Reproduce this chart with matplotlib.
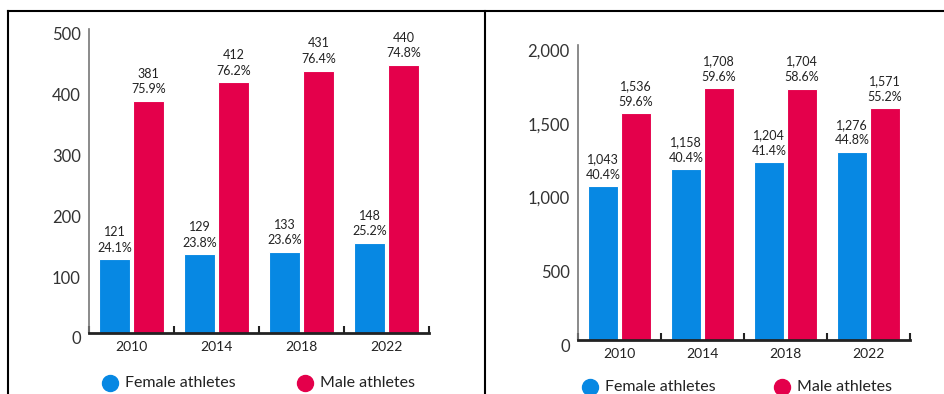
import numpy as np
import matplotlib
matplotlib.use('Agg')
import matplotlib.pyplot as plt
from matplotlib.lines import Line2D
from matplotlib.ticker import FuncFormatter
import matplotlib.transforms as mtransforms

plt.rcParams['font.family'] = ['Lato', 'DejaVu Sans']

years = ['2010', '2014', '2018', '2022']

# left panel (winter games)
female_left = [121, 129, 133, 148]
male_left = [381, 412, 431, 440]
female_left_pct = ['24.1%', '23.8%', '23.6%', '25.2%']
male_left_pct = ['75.9%', '76.2%', '76.4%', '74.8%']

# right panel (paralympic / other)
female_right = [1043, 1158, 1204, 1276]
male_right = [1536, 1708, 1704, 1571]
female_right_pct = ['40.4%', '40.4%', '41.4%', '44.8%']
male_right_pct = ['59.6%', '59.6%', '58.6%', '55.2%']

BLUE = '#0788E3'
RED = '#E4004B'
TXT = '#222222'

W, H = 944, 394
fig = plt.figure(figsize=(W / 100, H / 100), dpi=100)


def px_axes(x0, x1, ytop, ybot):
    return fig.add_axes([x0 / W, 1 - ybot / H, (x1 - x0) / W, (ybot - ytop) / H])


def draw_panel(ax, female, male, fpct, mpct, ymax, step, fmt):
    x = np.arange(len(years))
    bw = 0.36
    ax.bar(x - 0.2, female, bw, color=BLUE, edgecolor='white', linewidth=0.8)
    ax.bar(x + 0.2, male, bw, color=RED, edgecolor='white', linewidth=0.8)

    for xi, v, p in zip(x - 0.2, female, fpct):
        ax.annotate(f'{fmt(v)}\n{p}', (xi, v), xytext=(0, 4), textcoords='offset points',
                    ha='center', va='bottom', fontsize=9, color=TXT, linespacing=1.35)
    for xi, v, p in zip(x + 0.2, male, mpct):
        ax.annotate(f'{fmt(v)}\n{p}', (xi, v), xytext=(0, 4), textcoords='offset points',
                    ha='center', va='bottom', fontsize=9, color=TXT, linespacing=1.35)

    ax.set_xlim(-0.5, len(years) - 0.5)
    ax.set_ylim(0, ymax)
    ax.set_yticks(np.arange(0, ymax + 1, step))
    ax.yaxis.set_major_formatter(FuncFormatter(lambda v, _: fmt(v)))
    ax.tick_params(axis='y', length=0, pad=6, labelsize=12, labelcolor='#333333')
    # labels sit a bit below their gridline in the original
    off = mtransforms.ScaledTranslation(0, -5 / 100, fig.dpi_scale_trans)
    for lab in ax.get_yticklabels():
        lab.set_transform(lab.get_transform() + off)

    ax.set_xticks(np.arange(-0.5, len(years)), minor=False)
    ax.set_xticklabels([])
    ax.tick_params(axis='x', which='major', direction='in', length=5, width=1.5, color='#222222')
    ax.set_xticks(x, minor=True)
    ax.set_xticklabels(years, minor=True)
    ax.tick_params(axis='x', which='minor', length=0, pad=6, labelsize=10, labelcolor=TXT)

    for s in ['top', 'right']:
        ax.spines[s].set_visible(False)
    ax.spines['left'].set_color('#777777')
    ax.spines['left'].set_linewidth(1.2)
    ax.spines['bottom'].set_color('#222222')
    ax.spines['bottom'].set_linewidth(2)


ax1 = px_axes(89, 429, 28.5, 333)
draw_panel(ax1, female_left, male_left, female_left_pct, male_left_pct, 500, 100,
           lambda v: f'{int(v)}')

ax2 = px_axes(578, 910, 45, 340)
draw_panel(ax2, female_right, male_right, female_right_pct, male_right_pct, 2000, 500,
           lambda v: f'{int(v):,}')


def legend_at(cx_f, cx_m, cy):
    for cx, col, lab in [(cx_f, BLUE, 'Female athletes'), (cx_m, RED, 'Male athletes')]:
        fig.add_artist(Line2D([cx / W], [1 - cy / H], marker='o', markersize=11.5,
                              color=col, linestyle='none', transform=fig.transFigure))
        fig.text((cx + 15) / W, 1 - cy / H, lab, fontsize=11.5, color=TXT,
                 ha='left', va='center')


legend_at(110, 305, 383)
legend_at(590, 782, 387)

# frame lines
fig.add_artist(Line2D([8 / W, 1], [1 - 11 / H, 1 - 11 / H], color='black', linewidth=1.5,
                      transform=fig.transFigure))
fig.add_artist(Line2D([8 / W, 8 / W], [0, 1 - 11 / H], color='black', linewidth=1.5,
                      transform=fig.transFigure))
fig.add_artist(Line2D([485 / W, 485 / W], [0, 1 - 11 / H], color='black', linewidth=1.5,
                      transform=fig.transFigure))

fig.savefig('out.png', dpi=100)
